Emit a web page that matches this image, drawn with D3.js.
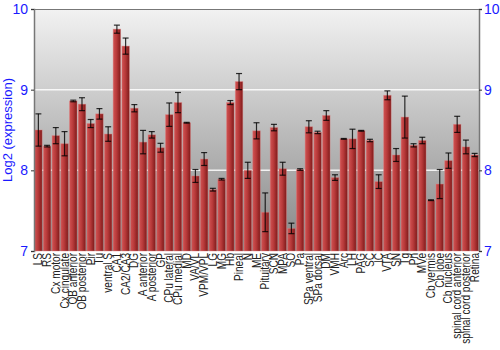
<!DOCTYPE html>
<html>
<head>
<meta charset="utf-8">
<script src="https://cdn.jsdelivr.net/npm/d3@7/dist/d3.min.js"></script>
<style>
  body { margin:0; background:#fff; }
  svg { display:block; font-family:"Liberation Sans",Arial,sans-serif; }
</style>
</head>
<body>
<div id="chart"></div>
<script>
const categories = ["LS","RS","Cx motor","Cx cingulate","OB anterior","OB posterior","Pir","Tu","ventral S","CA1","CA2/CA3","DG","A anterior","A posterior","GP","CPu lateral","CPu medial","MD","VA/VL","VPM/VPL","LG","MG","Hb","Pineal","N","ME","Pituitary","SCN","MPA","SO","Pa","SPa ventral","SPa dorsal","DM","VMH","Arc","LH","PAG","SC","IC","VTA","SN","Tg","Pn","MVe","Cb vermis","Cb lobe","Cb nucleus","spinal cord anterior","spinal cord posterior","Retina"];

const values = [8.50,8.30,8.43,8.33,8.86,8.82,8.58,8.70,8.45,9.75,9.54,8.77,8.35,8.44,8.28,8.69,8.84,8.59,7.93,8.14,7.76,7.89,8.84,9.10,8.00,8.49,7.48,8.53,8.02,7.28,8.01,8.54,8.47,8.68,7.91,8.39,8.39,8.49,8.37,7.86,8.93,8.19,8.66,8.31,8.37,7.63,7.83,8.12,8.57,8.29,8.19];

const errors = [0.20,0.01,0.10,0.15,0.01,0.08,0.05,0.065,0.09,0.05,0.10,0.045,0.145,0.04,0.055,0.145,0.125,0.005,0.08,0.08,0.017,0.01,0.025,0.10,0.10,0.10,0.24,0.04,0.08,0.065,0.01,0.075,0.015,0.06,0.035,0.005,0.12,0.005,0.015,0.085,0.055,0.08,0.26,0.02,0.04,0.005,0.18,0.095,0.10,0.085,0.02];

const yTicks = [7,8,9,10];

const W = 500, H = 350;
const margin = {left:34, right:21, top:9, bottom:99};

const svg = d3.select("#chart").append("svg")
  .attr("width",W).attr("height",H);

const defs = svg.append("defs");

const bg = defs.append("linearGradient")
  .attr("id","bg").attr("x1",0).attr("y1",0).attr("x2",0).attr("y2",1);
bg.append("stop").attr("offset","0%").attr("stop-color","#f2f2f2");
bg.append("stop").attr("offset","100%").attr("stop-color","#868686");

const barGrad = defs.append("linearGradient")
  .attr("id","bar").attr("x1",0).attr("y1",0).attr("x2",1).attr("y2",0);
barGrad.append("stop").attr("offset","0%").attr("stop-color","#d05252");
barGrad.append("stop").attr("offset","45%").attr("stop-color","#b83a3a");
barGrad.append("stop").attr("offset","100%").attr("stop-color","#7e1a1a");

const x = d3.scaleBand()
  .domain(categories)
  .range([margin.left, W - margin.right])
  .paddingInner(0.14)
  .paddingOuter(0.07);

const y = d3.scaleLinear()
  .domain([7,10])
  .range([H - margin.bottom, margin.top]);

// plot background
svg.append("rect")
  .attr("x",margin.left).attr("y",margin.top)
  .attr("width",W - margin.left - margin.right)
  .attr("height",H - margin.top - margin.bottom)
  .attr("fill","url(#bg)");

// gridlines
svg.append("g")
  .selectAll("line")
  .data([8,9])
  .join("line")
  .attr("x1",margin.left).attr("x2",W - margin.right)
  .attr("y1",d => y(d)).attr("y2",d => y(d))
  .attr("stroke","#ffffff")
  .attr("stroke-opacity",0.85)
  .attr("stroke-width",1.5);

// bars
svg.append("g")
  .selectAll("rect")
  .data(categories)
  .join("rect")
  .attr("x",d => x(d))
  .attr("width",x.bandwidth())
  .attr("y",(d,i) => y(values[i]))
  .attr("height",(d,i) => y(7) - y(values[i]))
  .attr("fill","url(#bar)")
  .attr("stroke","#e08080")
  .attr("stroke-opacity",0.5)
  .attr("stroke-width",0.8);

// error bars
const eb = svg.append("g")
  .attr("stroke","#000")
  .attr("stroke-opacity",0.8)
  .attr("stroke-width",1.2);

categories.forEach((c,i) => {
  const cx = x(c) + x.bandwidth()/2;
  const hi = y(values[i] + errors[i]);
  const lo = y(values[i] - errors[i]);
  eb.append("line").attr("x1",cx).attr("x2",cx).attr("y1",hi).attr("y2",lo);
  eb.append("line").attr("x1",cx-3).attr("x2",cx+3).attr("y1",hi).attr("y2",hi);
  eb.append("line").attr("x1",cx-3).attr("x2",cx+3).attr("y1",lo).attr("y2",lo);
});

// frame
svg.append("line")
  .attr("x1",margin.left).attr("x2",W - margin.right)
  .attr("y1",margin.top + 0.5).attr("y2",margin.top + 0.5)
  .attr("stroke","#777").attr("stroke-width",1);

// axes
const left = svg.append("g")
  .attr("transform",`translate(${margin.left},0)`)
  .call(d3.axisLeft(y).tickValues(yTicks).tickSize(3).tickPadding(3).tickFormat(d3.format("d")));

const right = svg.append("g")
  .attr("transform",`translate(${W - margin.right},0)`)
  .call(d3.axisRight(y).tickValues(yTicks).tickSize(3).tickPadding(2).tickFormat(d3.format("d")));

[left,right].forEach(g => {
  g.select(".domain").attr("stroke","#777").attr("stroke-width",1.5);
  g.selectAll(".tick line").attr("stroke","#333");
  g.selectAll("text")
    .attr("fill","#1a1aff")
    .style("font-size","14px");
});

// x labels (slightly condensed along the text direction)
svg.append("g")
  .selectAll("text")
  .data(categories)
  .join("text")
  .attr("transform",d => `translate(${x(d) + x.bandwidth()/2 + 4},${H - margin.bottom + 2}) rotate(-90) scale(0.84,1)`)
  .attr("text-anchor","end")
  .attr("fill","#222")
  .style("font-size","12px")
  .text(d => d);

// y label
svg.append("text")
  .attr("transform",`translate(12,${(margin.top + H - margin.bottom)/2}) rotate(-90)`)
  .attr("text-anchor","middle")
  .attr("fill","#1a1aff")
  .style("font-size","13px")
  .text("Log2 (expression)");
</script>
</body>
</html>
